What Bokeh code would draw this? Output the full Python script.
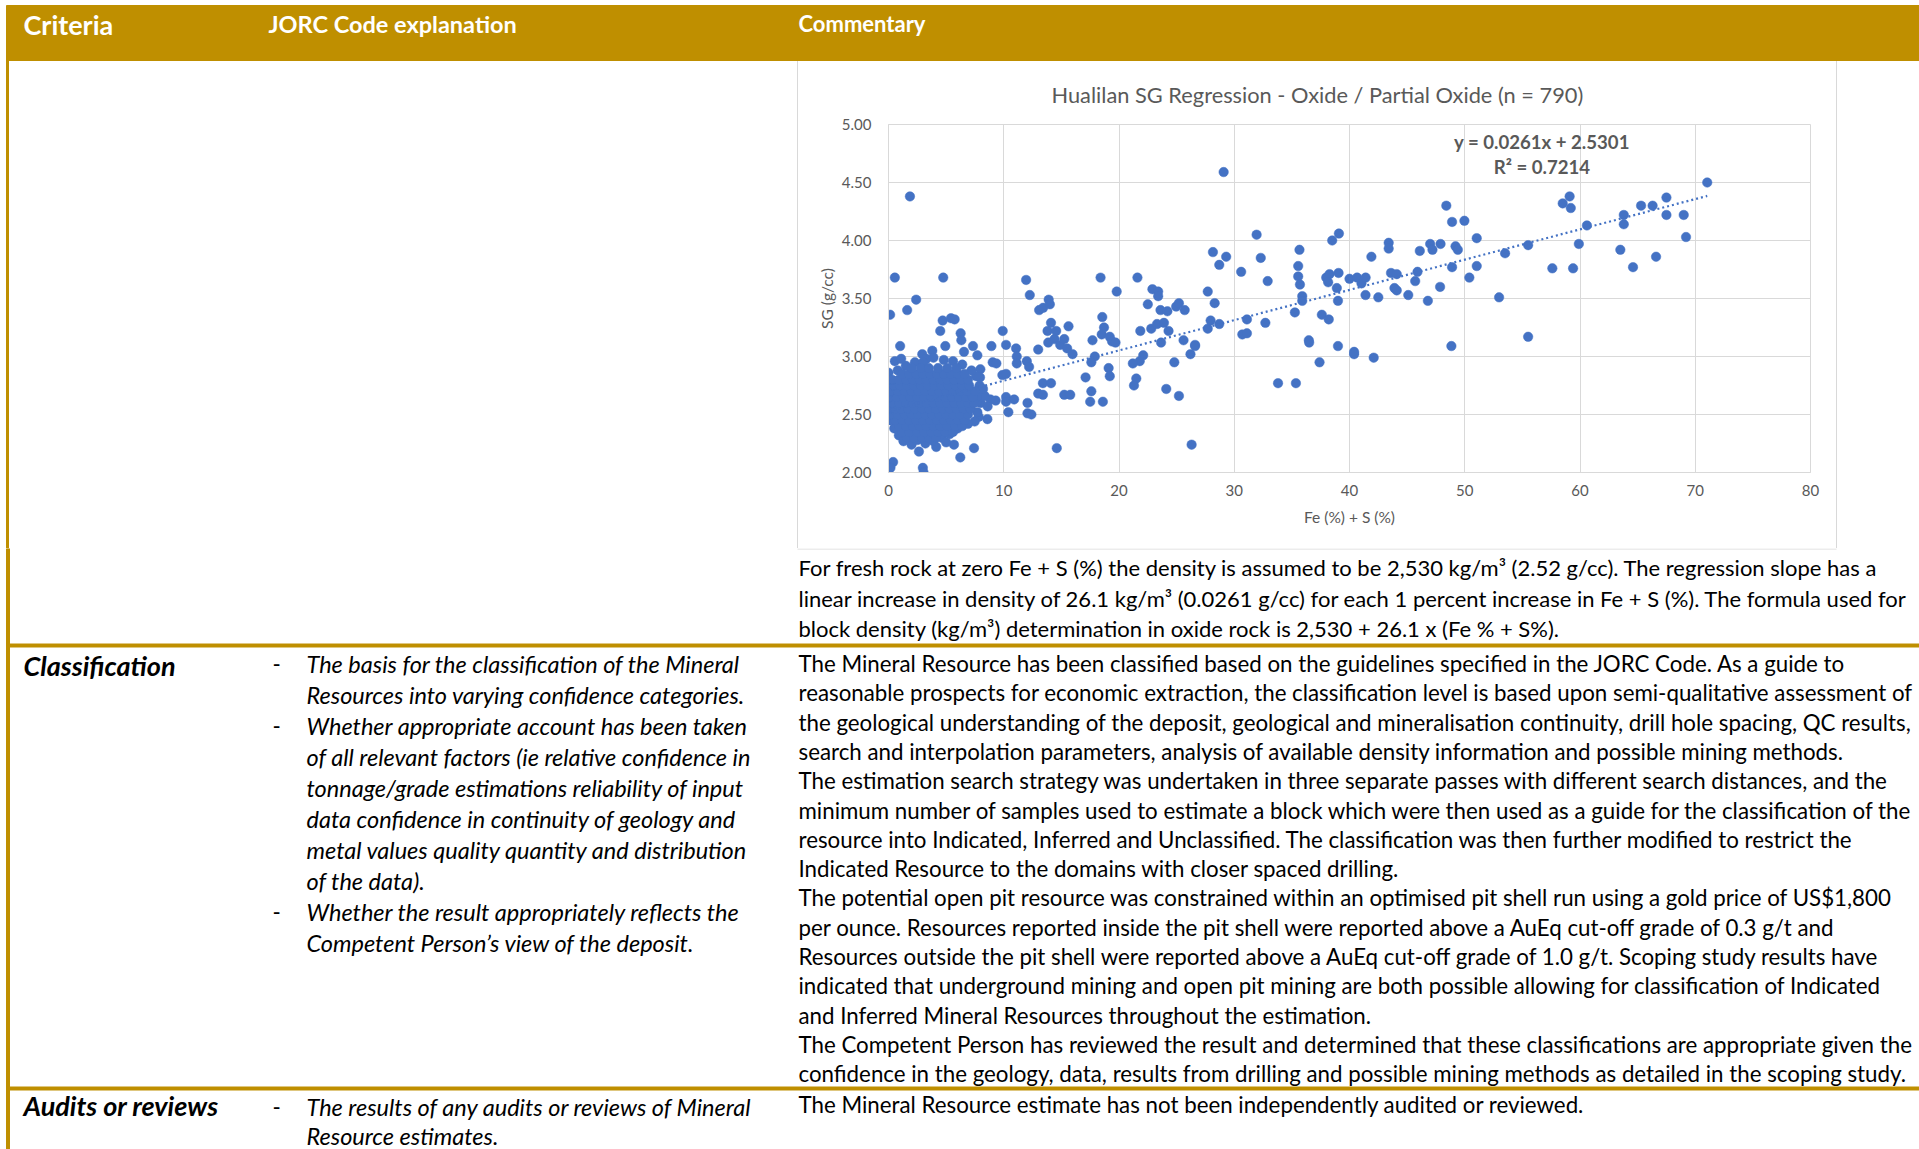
from bokeh.plotting import figure
from bokeh.layouts import column, row
from bokeh.models import Range1d, FixedTicker, NumeralTickFormatter, ColumnDataSource, Div
from bokeh.embed import file_html
from bokeh.resources import INLINE
from bokeh.core.properties import value

# ---------------- data ----------------
header_labels = ["Criteria", "JORC Code explanation", "Commentary"]

chart_title = "Hualilan SG Regression - Oxide / Partial Oxide (n = 790)"
x_axis_title = "Fe (%) + S (%)"
y_axis_title = "SG (g/cc)"
x_ticks = [0, 10, 20, 30, 40, 50, 60, 70, 80]
y_ticks = [2.0, 2.5, 3.0, 3.5, 4.0, 4.5, 5.0]
trend_slope = 0.0261
trend_intercept = 2.5301
trend_r2 = 0.7214

# scattered samples (Fe+S %, SG)
spread_x = [1.86, 0.55, 4.75, 2.40, 0.14, 1.62, 4.70, 5.42, 5.74, 4.49, 6.26, 6.32, 1.01, 4.93, 7.33, 6.55,
            7.71, 2.93, 3.80, 0.55, 2.29, 3.28, 8.93, 9.91, 10.2, 9.04, 9.36, 7.97, 7.94, 9.88, 10.2, 11.07,
            11.13, 11.13, 12.0, 12.2, 11.94, 12.26, 12.99, 13.07, 13.42, 13.9, 14.0, 14.1, 13.8, 14.55, 15.62,
            13.86, 14.4, 14.9, 15.25, 15.5, 15.97, 13.4, 14.1, 12.99, 13.4, 15.25, 15.77, 10.2, 10.2, 10.9,
            10.4, 12.06, 12.06, 12.4, 14.6, 18.4, 21.6, 19.8, 22.9, 23.4, 23.4, 22.5, 23.6, 24.2, 24.96, 25.2,
            25.7, 18.55, 18.7, 18.5, 17.7, 19.2, 19.4, 19.7, 21.85, 22.8, 23.3, 23.9, 24.3, 23.65, 25.6, 26.6,
            26.2, 24.8, 22.1, 21.8, 21.2, 17.9, 17.6, 19.1, 19.2, 17.1, 17.6, 17.5, 18.6, 21.5, 21.3, 24.1,
            25.2, 26.3, 6.23, 7.42, 5.68, 4.14, 2.64, 2.98, 3.04, 0.4, 0.17, 8.58, 7.83, 7.48, 8.84, 8.35,
            8.0, 7.7, 7.71,
            29.08, 31.94, 39.08, 38.5, 28.15, 29.3, 28.7, 32.3, 30.6, 32.9, 27.7, 28.3, 27.95, 27.7, 28.7,
            31.1, 32.7, 30.7, 31.1, 26.6, 35.66, 35.55, 35.55, 35.7, 35.9, 35.9, 35.26, 37.6, 38.2, 36.47,
            36.5, 37.4, 39.0, 33.8, 35.35, 37.98, 38.27, 39.05, 38.15, 38.9, 39.0, 40.0, 40.66, 41.04, 41.4,
            41.39, 42.5, 41.9, 43.4, 43.4, 43.6, 44.1, 43.9, 44.1, 45.1, 40.4, 40.4, 42.1, 46.1, 47.0, 47.2,
            47.9, 45.9, 45.7, 47.86, 46.8, 48.4, 48.9, 49.97, 51.04, 49.2, 49.4, 48.9, 51.04, 50.4, 48.84,
            52.98, 53.5,
            55.5, 55.5, 57.6, 59.4, 58.5, 59.1, 59.2, 60.6, 59.9, 63.5, 63.8, 63.8, 64.6, 65.3, 66.3, 66.6,
            67.5, 67.5, 69.0, 69.2, 71.04]
spread_y = [4.38, 3.68, 3.68, 3.49, 3.36, 3.40, 3.31, 3.33, 3.32, 3.22, 3.20, 3.14, 3.09, 3.09, 3.09, 3.04,
            3.01, 3.02, 3.05, 2.96, 2.95, 2.98, 3.09, 3.22, 3.10, 2.95, 2.94, 2.89, 2.82, 2.84, 2.85, 3.07,
            3.00, 2.94, 2.96, 2.91, 3.66, 3.53, 3.06, 3.40, 3.42, 3.49, 3.45, 3.29, 3.22, 3.22, 3.26,
            3.12, 3.15, 3.10, 3.15, 3.07, 3.02, 2.77, 2.77, 2.68, 2.67, 2.67, 2.67, 2.65, 2.61, 2.63,
            2.52, 2.60, 2.51, 2.50, 2.21, 3.68, 3.68, 3.56, 3.58, 3.56, 3.52, 3.45, 3.40, 3.39, 3.43, 3.46,
            3.40, 3.34, 3.25, 3.19, 3.14, 3.17, 3.13, 3.12, 3.22, 3.24, 3.28, 3.29, 3.22, 3.12, 3.14, 3.10,
            3.02, 2.95, 3.01, 2.96, 2.94, 3.00, 2.95, 2.90, 2.83, 2.82, 2.70, 2.61, 2.61, 2.81, 2.75, 2.72,
            2.66, 2.24, 2.13, 2.21, 2.24, 2.22, 2.18, 2.04, 2.00, 2.09, 2.04, 2.46, 2.48, 2.44, 2.63, 2.66,
            2.60, 2.61, 2.52,
            4.59, 4.05, 4.06, 4.00, 3.90, 3.86, 3.79, 3.85, 3.73, 3.65, 3.56, 3.46, 3.31, 3.24, 3.28,
            3.32, 3.29, 3.19, 3.20, 3.09, 3.92, 3.78, 3.69, 3.62, 3.52, 3.48, 3.38, 3.36, 3.32, 3.14,
            3.12, 2.95, 3.09, 2.77, 2.77, 3.68, 3.71, 3.72, 3.64, 3.59, 3.48, 3.67, 3.68, 3.63, 3.68,
            3.53, 3.51, 3.86, 3.98, 3.93, 3.72, 3.71, 3.59, 3.57, 3.53, 3.04, 3.02, 2.99, 3.91, 3.97, 3.92,
            3.97, 3.73, 3.65, 3.60, 3.48, 4.30, 4.16, 4.17, 4.02, 3.95, 3.92, 3.77, 3.78, 3.68, 3.09,
            3.51, 3.89,
            3.96, 3.17, 3.76, 3.76, 4.32, 4.38, 4.28, 4.13, 3.97, 3.92, 4.22, 4.14, 3.77, 4.30, 4.30, 3.86,
            4.37, 4.22, 4.22, 4.03, 4.50]

# ragged fringe of the low-grade cluster
fringe_x = [0.0, 0.2, 0.5, 0.9, 1.3, 2.0, 2.5, 3.2, 3.9, 4.6, 5.3, 6.0, 6.9, 7.1, 7.7, 7.9, 7.6, 7.2,
            6.4, 5.6, 4.8, 3.9, 3.0, 1.5, 0.8, 0.1, 0.05, 1.1, 2.2, 5.0, 6.6, 8.2, 8.6, 9.3]
fringe_y = [2.86, 2.45, 2.38, 2.32, 2.27, 2.24, 2.28, 2.25, 2.27, 2.30, 2.33, 2.38, 2.42, 2.56, 2.66, 2.75,
            2.83, 2.88, 2.93, 2.96, 2.97, 2.99, 2.95, 2.92, 2.88, 2.72, 2.58, 2.98, 2.31, 2.26, 2.47, 2.72,
            2.57, 2.62]

# dense low-grade core of the population, read row by row (SG: list of Fe+S %)
core_rows = {
    2.30: [1.6, 2.2, 2.9, 3.5, 4.1],
    2.35: [1.2, 1.8, 2.5, 3.1, 3.7, 4.3, 4.9, 5.6],
    2.40: [0.9, 1.5, 2.1, 2.7, 3.3, 3.9, 4.5, 5.1, 5.8, 6.4],
    2.45: [0.6, 1.2, 1.8, 2.4, 3.0, 3.6, 4.2, 4.8, 5.4, 6.0, 6.6],
    2.50: [0.2, 0.8, 1.4, 2.0, 2.6, 3.2, 3.8, 4.4, 5.0, 5.6, 6.2, 6.9],
    2.55: [0.1, 0.6, 1.1, 1.7, 2.3, 2.9, 3.5, 4.1, 4.7, 5.3, 5.9, 6.5, 7.1],
    2.60: [0.3, 0.9, 1.5, 2.1, 2.7, 3.3, 3.9, 4.5, 5.1, 5.7, 6.3, 6.9, 7.4],
    2.65: [0.1, 0.7, 1.3, 1.9, 2.5, 3.1, 3.7, 4.3, 4.9, 5.5, 6.1, 6.7, 7.3],
    2.70: [0.2, 0.8, 1.4, 2.0, 2.6, 3.2, 3.8, 4.4, 5.0, 5.6, 6.2, 6.8, 7.5],
    2.75: [0.4, 1.0, 1.6, 2.2, 2.8, 3.4, 4.0, 4.6, 5.2, 5.8, 6.4, 7.0],
    2.80: [0.3, 0.9, 1.5, 2.1, 2.7, 3.3, 3.9, 4.5, 5.1, 5.7, 6.3, 6.9],
    2.85: [1.2, 1.8, 2.4, 3.0, 3.6, 4.2, 4.8, 5.4, 6.0, 6.6],
    2.90: [2.0, 2.8, 3.5, 4.3, 5.1, 5.9],
}

row1_commentary = [
    "For fresh rock at zero Fe + S (%) the density is assumed to be 2,530 kg/m\u00b3 (2.52 g/cc).  The regression slope has a",
    "linear increase in density of 26.1 kg/m\u00b3 (0.0261 g/cc) for each 1 percent increase in Fe + S (%). The formula used for",
    "block density (kg/m\u00b3) determination in oxide rock is 2,530 + 26.1 x (Fe % + S%).",
]
class_criteria = "Classification"
class_explanation = [
    "The basis for the classification of the Mineral",
    "Resources into varying confidence categories.",
    "Whether appropriate account has been taken",
    "of all relevant factors (ie relative confidence in",
    "tonnage/grade estimations reliability of input",
    "data confidence in continuity of geology and",
    "metal values quality quantity and distribution",
    "of the data).",
    "Whether the result appropriately reflects the",
    "Competent Person\u2019s view of the deposit.",
]
class_bullet_lines = [0, 2, 8]
class_commentary = [
    "The Mineral Resource has been classified based on the guidelines specified in the JORC Code. As a guide to",
    "reasonable prospects for economic extraction, the classification level is based upon semi-qualitative assessment of",
    "the geological understanding of the deposit, geological and mineralisation continuity, drill hole spacing, QC results,",
    "search and interpolation parameters, analysis of available density information and possible mining methods.",
    "The estimation search strategy was undertaken in three separate passes with different search distances, and the",
    "minimum number of samples used to estimate a block which were then used as a guide for the classification of the",
    "resource into Indicated, Inferred and Unclassified. The classification was then further modified to restrict the",
    "Indicated Resource to the domains with closer spaced drilling.",
    "The potential open pit resource was constrained within an optimised pit shell run using a gold price of US$1,800",
    "per ounce.  Resources reported inside the pit shell were reported above a AuEq cut-off grade of 0.3 g/t and",
    "Resources outside the pit shell were reported above a AuEq cut-off grade of 1.0 g/t.  Scoping study results have",
    "indicated that underground mining and open pit mining are both possible allowing for classification of Indicated",
    "and Inferred Mineral Resources throughout the estimation.",
    "The Competent Person has reviewed the result and determined that these classifications are appropriate given the",
    "confidence in the geology, data, results from drilling and possible mining methods as detailed in the scoping study.",
]
audit_criteria = "Audits or reviews"
audit_explanation = ["The results of any audits or reviews of Mineral", "Resource estimates."]
audit_commentary = ["The Mineral Resource estimate has not been independently audited or reviewed."]

# ---------------- styling / geometry ----------------
GOLD = "#BF8F00"
BLUE = "#4472C4"
GREY_TXT = "#595959"
GRID = "#D9D9D9"
FONT = "Lato"
BODY = 22.3
ITAL = 23.5
CRIT = 27

W = 1919
HEAD_BOT = 61
CHART_BOT = 548
H = 1149
BORDER_X = 6
COMM_X = 798
BOX_L = 797
BOX_R = 1836


def panel(x0, x1, y0, y1, fill="white"):
    p = figure(width=x1 - x0, height=y1 - y0,
               x_range=Range1d(x0, x1), y_range=Range1d(y1, y0),
               x_axis_location=None, y_axis_location=None,
               output_backend="svg", toolbar_location=None, min_border=0)
    p.grid.visible = False
    p.outline_line_color = None
    p.background_fill_color = fill
    p.border_fill_color = fill
    return p


def put(p, xs, ys, texts, size, style="normal", color="#000000", align="left"):
    p.text(x=xs, y=ys, text=texts, text_font=value(FONT), text_font_size=f"{size}px",
           text_font_style=style, text_color=color, text_align=align, text_baseline="middle")


# header band
head = panel(0, W, 0, HEAD_BOT)
head.quad(left=[BORDER_X], right=[W], top=[5], bottom=[HEAD_BOT], color=GOLD)
put(head, [23], [23.5], header_labels[:1], 27, style="bold", color="white")
put(head, [268], [23.5], header_labels[1:2], 23.5, style="bold", color="white")
put(head, [COMM_X], [22.5], header_labels[2:], 22, style="bold", color="white")

# chart row: left and right blank cells (plain decoration)
left_cell = Div(width=BOX_L, height=CHART_BOT - HEAD_BOT, margin=0, text="",
                styles={"background": f"linear-gradient(to right, white 0px, white {BORDER_X}px, {GOLD} {BORDER_X}px, "
                                      f"{GOLD} {BORDER_X + 3}px, white {BORDER_X + 3}px, white 100%)"})
right_cell = Div(width=W - BOX_R, height=CHART_BOT - HEAD_BOT, margin=0, text="",
                 styles={"background": f"linear-gradient(to right, {GRID} 0px, {GRID} 1px, white 1px, white 100%)"})

# chart
cp = figure(width=BOX_R - BOX_L, height=CHART_BOT - HEAD_BOT,
            x_range=Range1d(x_ticks[0], x_ticks[-1]), y_range=Range1d(y_ticks[0], y_ticks[-1]),
            output_backend="svg", toolbar_location=None,
            min_border_left=90, min_border_right=27, min_border_top=63, min_border_bottom=76,
            title=chart_title)
cp.title.text_font = FONT
cp.title.text_font_size = "21.8px"
cp.title.text_font_style = "normal"
cp.title.text_color = GREY_TXT
cp.title.align = "left"
cp.title.offset = 163
cp.title.standoff = 29
cp.title.vertical_align = "top"
cp.outline_line_color = GRID
cp.background_fill_color = "white"
cp.border_fill_color = "white"
cp.styles = {"border-left": f"1px solid {GRID}", "box-sizing": "border-box"}

cp.xaxis.ticker = FixedTicker(ticks=x_ticks)
cp.yaxis.ticker = FixedTicker(ticks=y_ticks)
cp.yaxis.formatter = NumeralTickFormatter(format="0.00")
cp.xaxis.axis_label = x_axis_title
cp.yaxis.axis_label = y_axis_title
for ax in (cp.xaxis, cp.yaxis):
    ax.axis_line_color = GRID
    ax.major_tick_line_color = None
    ax.minor_tick_line_color = None
    ax.major_label_text_font = FONT
    ax.major_label_text_font_size = "15px"
    ax.major_label_text_color = GREY_TXT
    ax.axis_label_text_font = FONT
    ax.axis_label_text_font_size = "15.5px"
    ax.axis_label_text_font_style = "normal"
    ax.axis_label_text_color = GREY_TXT
cp.xaxis.major_label_standoff = 6
cp.yaxis.major_label_standoff = 11
cp.xaxis.axis_label_standoff = 9
cp.yaxis.axis_label_standoff = 3
cp.xgrid.grid_line_color = GRID
cp.ygrid.grid_line_color = GRID

core_x = [x for yv, xs in core_rows.items() for x in xs]
core_y = [yv for yv, xs in core_rows.items() for x in xs]
all_x = spread_x + fringe_x + core_x
all_y = spread_y + fringe_y + core_y
src = ColumnDataSource(dict(x=all_x, y=all_y))
cp.scatter("x", "y", source=src, size=9.5, fill_color=BLUE, line_color=BLUE, line_width=0.5)

tx = [min(all_x), max(all_x)]
ty = [trend_intercept + trend_slope * v for v in tx]
cp.line(tx, ty, line_color=BLUE, line_width=2.2, line_dash="2 3")

eq_lines = [f"y = {trend_slope}x + {trend_intercept}", f"R\u00b2 = {trend_r2}"]
cp.text(x=[56.7, 56.7], y=[4.845, 4.63], text=eq_lines, text_font=value(FONT), text_font_size="18.6px",
        text_font_style="bold", text_color=GREY_TXT, text_align="center", text_baseline="middle")

# lower part of the table
low = panel(0, W, CHART_BOT, H)
low.quad(left=[BORDER_X], right=[BORDER_X + 3], top=[CHART_BOT], bottom=[H], color=GOLD)
low.segment(x0=[BOX_L], y0=[CHART_BOT + 0.5], x1=[BOX_R], y1=[CHART_BOT + 0.5], line_color=GRID, line_width=1)
low.quad(left=[BORDER_X, BORDER_X], right=[W, W], top=[643.5, 1086.5], bottom=[646.5, 1089.5], color=GOLD)

put(low, [COMM_X] * 3, [567, 597.5, 628], row1_commentary, 22.0)

put(low, [23], [665], [class_criteria], CRIT, style="bold italic")
ys = [663 + 31 * i for i in range(len(class_explanation))]
put(low, [306] * len(ys), ys, class_explanation, ITAL, style="italic")
put(low, [272] * len(class_bullet_lines), [ys[i] for i in class_bullet_lines], ["-"] * len(class_bullet_lines), BODY)
yc = [663 + 29.3 * i for i in range(len(class_commentary))]
put(low, [COMM_X] * len(yc), yc, class_commentary, BODY)

put(low, [23], [1105], [audit_criteria], CRIT, style="bold italic")
put(low, [272], [1106], ["-"], BODY)
put(low, [306, 306], [1106, 1135], audit_explanation, ITAL, style="italic")
put(low, [COMM_X], [1104], audit_commentary, BODY)

page = column(head, row(left_cell, cp, right_cell, spacing=0), low, spacing=0)
open("out.html", "w").write(file_html(page, INLINE))
